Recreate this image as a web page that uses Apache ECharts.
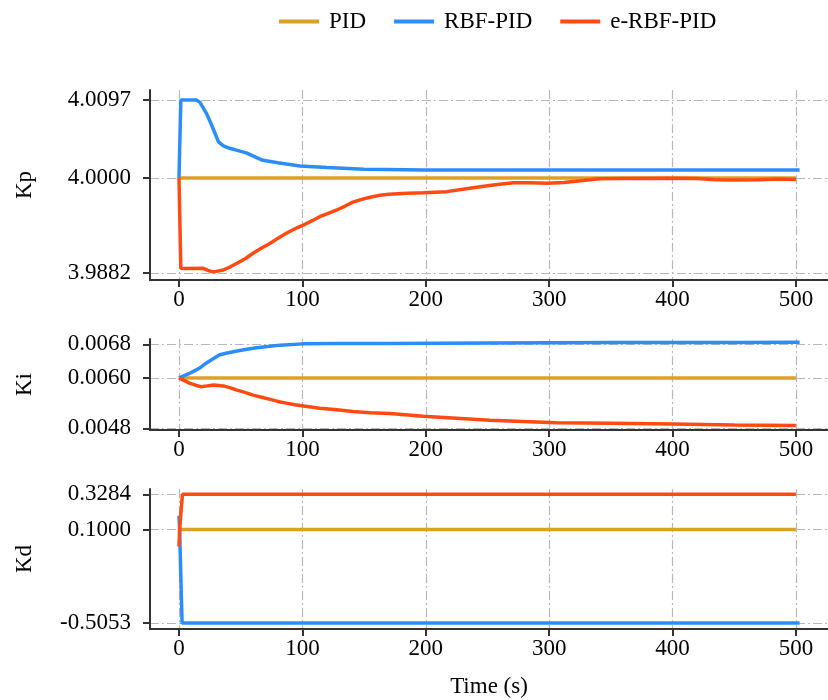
<!DOCTYPE html>
<html>
<head>
<meta charset="utf-8">
<script src="https://cdn.jsdelivr.net/npm/echarts@6/dist/echarts.min.js"></script>
<style>
html,body{margin:0;padding:0;background:#fff;}
#chart{width:828px;height:700px;}
</style>
</head>
<body>
<div id="chart"></div>
<script>
// ---- data ----
var seriesNames = ['PID', 'RBF-PID', 'e-RBF-PID'];
var xTicks = [0, 100, 200, 300, 400, 500];
var kpTicks = [3.9882, 4.0000, 4.0097];
var kiTicks = [0.0048, 0.0060, 0.0068];
var kdTicks = [-0.5053, 0.1000, 0.3284];

var kpPID = [[0, 4.0000], [500, 4.0000]];
var kpRBF = [[0,4.0000],[1.5,4.0097],[14,4.0097],[17,4.0094],[22,4.0081],[25,4.0071],[28,4.0060],[32,4.0045],[36,4.0040],[41,4.0037],[48,4.0034],[55,4.0031],[62,4.0026],[68,4.0022],[80,4.0019],[98,4.0015],[120,4.0013],[150,4.0011],[200,4.0010],[300,4.0010],[400,4.0010],[503,4.0010]];
var kpERBF = [[0,4.0000],[1.5,3.9888],[5,3.98875],[19.7,3.98878],[23,3.98855],[26.5,3.98836],[30,3.9884],[36,3.98857],[42,3.9890],[47,3.98941],[54,3.9900],[60,3.99065],[67,3.9913],[74,3.99189],[80,3.9925],[87,3.99313],[94,3.9937],[101,3.99417],[108,3.9947],[114,3.9952],[121,3.9956],[128,3.99603],[135,3.99655],[141,3.9970],[148,3.99735],[155,3.99762],[163,3.99785],[170,3.99798],[185,3.9981],[198,3.99818],[217,3.99831],[230,3.9986],[244,3.99893],[258,3.9992],[271,3.99942],[285,3.9994],[298,3.99935],[312,3.99945],[325,3.99965],[341,3.99992],[360,3.99995],[400,3.99997],[420,3.99993],[435,3.9998],[449,3.99976],[470,3.9998],[485,3.99988],[500,3.99982]];

var kiPID = [[0, 0.0060], [500, 0.0060]];
var kiRBF = [[0,0.0060],[1,0.00603],[8,0.00610],[14,0.00619],[18,0.00626],[22,0.00635],[28,0.00646],[33,0.00655],[40,0.00660],[47,0.00664],[55,0.00668],[63,0.00672],[72,0.00675],[82,0.00678],[100,0.00681],[128,0.00682],[170,0.00682],[250,0.00683],[350,0.00684],[450,0.00684],[503,0.00685]];
var kiERBF = [[0,0.0060],[4,0.00594],[9,0.00587],[14,0.00582],[18,0.00579],[23,0.00581],[28,0.00583],[32,0.00582],[36,0.00581],[41,0.00577],[47,0.00571],[54,0.00565],[60,0.00559],[67,0.00554],[74,0.00549],[80,0.00544],[87,0.0054],[94,0.00536],[101,0.00533],[114,0.00528],[128,0.00524],[141,0.0052],[155,0.00517],[171,0.00515],[198,0.00509],[225,0.00504],[252,0.00499],[279,0.00496],[306,0.00493],[349,0.00492],[400,0.0049],[450,0.00488],[500,0.00487]];

var kdPID = [[0, 0.1000], [500, 0.1000]];
var kdRBF = [[0,0.19],[0.5,0.1],[2.5,-0.5053],[100,-0.5053],[300,-0.5053],[503,-0.5053]];
var kdERBF = [[0,-0.01],[0.5,0.1],[2.8,0.3284],[100,0.3284],[300,0.3280],[500,0.3280]];

var colors = ['#DBA124', '#2B8EF8', '#FF4A14'];

// ---- chart ----
var FONT = "'Liberation Serif', 'Times New Roman', serif";
var axisLineStyle = { color: '#333', width: 2 };
var splitStyle = { color: '#b8b8b8', width: 1.2, type: [9, 3, 2, 3] };

function makeX(idx, showName) {
  return {
    type: 'value', gridIndex: idx, min: -23.5, max: 526,
    name: showName ? 'Time (s)' : '', nameLocation: 'middle', nameGap: 46,
    nameTextStyle: { fontFamily: FONT, fontSize: 23, color: '#000' },
    axisLine: { show: true, onZero: false, lineStyle: axisLineStyle },
    axisTick: { show: true, length: 7, inside: false, customValues: xTicks, lineStyle: axisLineStyle },
    axisLabel: { customValues: xTicks, margin: 8, fontFamily: FONT, fontSize: 23, color: '#000' },
    splitLine: { show: true, lineStyle: splitStyle }
  };
}
function makeY(idx, name, min, max, ticks) {
  return {
    type: 'value', gridIndex: idx, min: min, max: max,
    name: name, nameLocation: 'middle', nameRotate: 90, nameGap: 114,
    nameTextStyle: { fontFamily: FONT, fontSize: 23, color: '#000' },
    axisLine: { show: true, onZero: false, lineStyle: axisLineStyle },
    axisTick: { show: true, length: 7, customValues: ticks, lineStyle: axisLineStyle },
    axisLabel: { customValues: ticks, margin: 19, fontFamily: FONT, fontSize: 23, color: '#000',
      formatter: function (v) { return v.toFixed(4); } },
    splitLine: { show: true, lineStyle: splitStyle }
  };
}
function line(name, idx, data, ci) {
  return {
    name: name, type: 'line', xAxisIndex: idx, yAxisIndex: idx, data: data,
    symbol: 'none', smooth: false, animation: false,
    lineStyle: { width: 3.5, color: colors[ci] }, itemStyle: { color: colors[ci] }
  };
}

var option = {
  backgroundColor: '#fff',
  animation: false,
  color: colors,
  legend: {
    data: seriesNames, left: 274, top: 5, icon: 'rect', itemWidth: 40, itemHeight: 4, itemGap: 28,
    textStyle: { fontFamily: FONT, fontSize: 23, color: '#000', padding: [0, 0, 0, 5] }
  },
  grid: [
    { left: 150, right: 0, top: 90, height: 190 },
    { left: 150, right: 0, top: 339, height: 91 },
    { left: 150, right: 0, top: 489, height: 140 }
  ],
  xAxis: [makeX(0, false), makeX(1, false), makeX(2, true)],
  yAxis: [
    makeY(0, 'Kp', 3.98733, 4.01094, kpTicks),
    makeY(1, 'Ki', 0.00476, 0.006926, kiTicks),
    makeY(2, 'Kd', -0.5441, 0.3627, kdTicks)
  ],
  series: [
    line('PID', 0, kpPID, 0), line('RBF-PID', 0, kpRBF, 1), line('e-RBF-PID', 0, kpERBF, 2),
    line('PID', 1, kiPID, 0), line('RBF-PID', 1, kiRBF, 1), line('e-RBF-PID', 1, kiERBF, 2),
    line('PID', 2, kdPID, 0), line('RBF-PID', 2, kdRBF, 1), line('e-RBF-PID', 2, kdERBF, 2)
  ]
};
var chart = echarts.init(document.getElementById('chart'), null, { renderer: 'canvas' });
chart.setOption(option);
</script>
</body>
</html>
